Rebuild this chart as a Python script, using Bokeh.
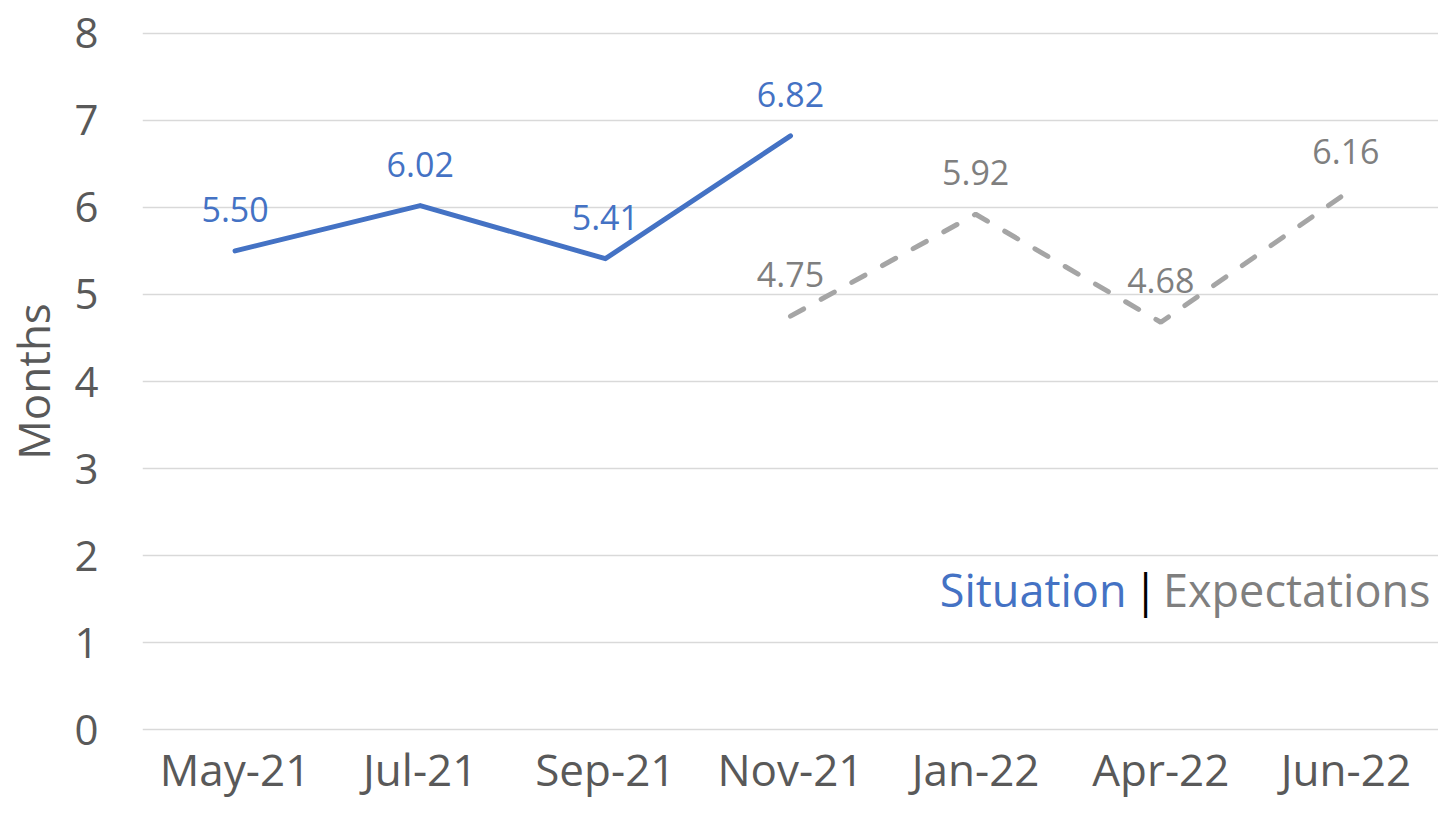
from bokeh.plotting import figure
from bokeh.models import ColumnDataSource, Label, FixedTicker
from bokeh.core.properties import value
from bokeh.embed import file_html
from bokeh.resources import INLINE

months = ["May-21", "Jul-21", "Sep-21", "Nov-21", "Jan-22", "Apr-22", "Jun-22"]
situation_months = ["May-21", "Jul-21", "Sep-21", "Nov-21"]
situation = [5.50, 6.02, 5.41, 6.82]
expect_months = ["Nov-21", "Jan-22", "Apr-22", "Jun-22"]
expectations = [4.75, 5.92, 4.68, 6.16]
y_ticks = [0, 1, 2, 3, 4, 5, 6, 7, 8]

FONT = "Open Sans"
BLUE = "#4472C4"
GRAY_LINE = "#A5A5A5"
GRAY_TEXT = "#7F7F7F"
AXIS_TEXT = "#595959"

p = figure(x_range=months, y_range=(-0.03, 8.03), width=1438, height=812,
           output_backend="svg", toolbar_location=None,
           min_border_left=135, min_border_right=0, min_border_top=30, min_border_bottom=80)
p.outline_line_color = None
p.background_fill_color = "white"
p.border_fill_color = "white"

p.xgrid.grid_line_color = None
p.ygrid.grid_line_color = "#D9D9D9"
p.ygrid.grid_line_width = 1.5
p.yaxis.ticker = FixedTicker(ticks=y_ticks)

for ax in (p.xaxis[0], p.yaxis[0]):
    ax.axis_line_color = None
    ax.major_tick_line_color = None
    ax.minor_tick_line_color = None
    ax.major_tick_out = 0
    ax.major_tick_in = 0
    ax.major_label_text_font = FONT
    ax.major_label_text_color = AXIS_TEXT

p.xaxis.major_label_text_font_size = "44px"
p.yaxis.major_label_text_font_size = "42px"
p.xaxis.major_label_standoff = 6
p.yaxis.major_label_standoff = 44
p.yaxis.axis_label = "Months"
p.yaxis.axis_label_text_font = FONT
p.yaxis.axis_label_text_font_style = "normal"
p.yaxis.axis_label_text_color = AXIS_TEXT
p.yaxis.axis_label_text_font_size = "44px"
p.yaxis.axis_label_standoff = 8

s_src = ColumnDataSource(dict(x=situation_months, y=situation, t=[f"{v:.2f}" for v in situation]))
e_src = ColumnDataSource(dict(x=expect_months, y=expectations, t=[f"{v:.2f}" for v in expectations]))

p.line("x", "y", source=e_src, line_color=GRAY_LINE, line_width=5, line_dash="15 20", line_cap="round")
p.line("x", "y", source=s_src, line_color=BLUE, line_width=5, line_cap="round", line_join="round")

p.text("x", "y", text="t", source=s_src, text_color=BLUE, text_font=value(FONT), text_font_size="34px",
       text_align="center", text_baseline="bottom", y_offset=-29)
p.text("x", "y", text="t", source=e_src, text_color=GRAY_TEXT, text_font=value(FONT), text_font_size="34px",
       text_align="center", text_baseline="bottom", y_offset=-29)

# legend-like annotation
p.add_layout(Label(x=1288, y=143, x_units="screen", y_units="screen", text="Expectations",
                   text_align="right", text_baseline="alphabetic", text_color=GRAY_TEXT,
                   text_font=FONT, text_font_size="45px"))
p.add_layout(Label(x=1003, y=143, x_units="screen", y_units="screen", text="|",
                   text_align="center", text_baseline="alphabetic", text_color="black",
                   text_font=FONT, text_font_size="45px"))
p.add_layout(Label(x=984, y=143, x_units="screen", y_units="screen", text="Situation",
                   text_align="right", text_baseline="alphabetic", text_color=BLUE,
                   text_font=FONT, text_font_size="45px"))

open("out.html", "w").write(file_html(p, INLINE))
